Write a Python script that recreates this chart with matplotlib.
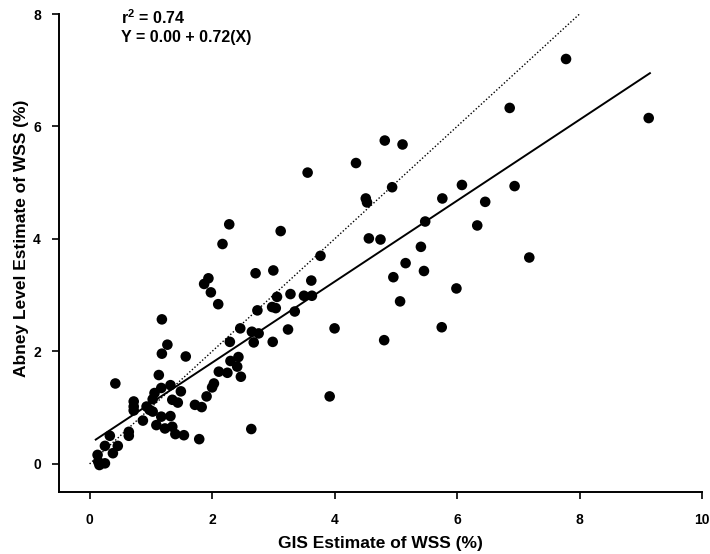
import matplotlib
matplotlib.use("Agg")
import matplotlib.pyplot as plt
import numpy as np

plt.rcParams['font.family'] = ['Liberation Sans', 'DejaVu Sans']
plt.rcParams['mathtext.fontset'] = 'custom'
plt.rcParams['mathtext.rm'] = 'Liberation Sans:bold'
plt.rcParams['mathtext.bf'] = 'Liberation Sans:bold'

gis_x = [7.78, 6.86, 9.13, 4.82, 5.11, 4.35, 3.56, 4.94, 4.51, 4.53, 6.08, 6.94, 5.76, 6.46,
         5.48, 6.33, 4.56, 4.75, 5.41, 7.18, 5.16, 5.46, 4.96, 5.99, 5.07, 4.00, 5.75, 4.81, 3.92,
         2.28, 3.12, 2.17, 3.77, 2.71, 3.00, 1.94, 1.87, 1.98, 3.62, 2.10, 3.06, 3.28, 3.50, 3.63,
         2.74, 2.98, 3.04, 3.35, 1.18, 2.46, 2.65, 2.76, 2.68, 3.24, 2.99, 2.29, 1.27, 1.18, 1.57,
         2.30, 2.43, 2.41, 2.11, 2.25, 2.47, 2.03, 2.00, 1.91,
         0.42, 1.13, 1.17, 1.32, 1.49, 1.06, 1.03, 0.72, 0.72, 0.72, 0.93, 0.98, 1.03, 1.35, 1.44,
         1.72, 1.83, 0.87, 1.17, 1.32, 1.09, 1.23, 1.35, 1.40, 1.54, 1.79, 0.64, 0.64, 0.33, 0.46,
         0.25, 0.38, 0.13, 0.14, 0.25, 0.16, 2.64]
abney_y = [7.20, 6.33, 6.15, 5.75, 5.68, 5.35, 5.18, 4.92, 4.72, 4.65, 4.96, 4.94, 4.72, 4.66,
           4.31, 4.24, 4.01, 3.99, 3.86, 3.67, 3.57, 3.43, 3.32, 3.12, 2.89, 2.41, 2.43, 2.20, 1.20,
           4.26, 4.14, 3.91, 3.70, 3.39, 3.44, 3.30, 3.20, 3.05, 3.26, 2.84, 2.97, 3.02, 2.99, 2.99,
           2.73, 2.79, 2.77, 2.71, 2.57, 2.41, 2.35, 2.32, 2.16, 2.39, 2.17, 2.17, 2.12, 1.96, 1.91,
           1.83, 1.90, 1.73, 1.64, 1.62, 1.55, 1.43, 1.36, 1.20,
           1.43, 1.58, 1.35, 1.40, 1.29, 1.26, 1.15, 1.11, 1.02, 0.95, 1.02, 0.96, 0.93, 1.14, 1.09,
           1.05, 1.01, 0.77, 0.84, 0.85, 0.69, 0.63, 0.66, 0.53, 0.51, 0.44, 0.57, 0.50, 0.50, 0.32,
           0.32, 0.19, 0.16, 0.04, 0.01, -0.02, 0.62]

fit_intercept = 0.36
fit_slope = 0.72
fit_x = [0.1, 9.15]
one_to_one = [0.0, 8.0]

x_ticks = [0, 2, 4, 6, 8, 10]
y_ticks = [0, 2, 4, 6, 8]

fig = plt.figure(figsize=(7.1, 5.54), dpi=100)
ax = fig.add_axes([0.0831, 0.1119, 0.9056, 0.8628])

ax.scatter(gis_x, abney_y, s=58, color='black', edgecolors='none', zorder=3)
fx = np.array(fit_x)
ax.plot(fx, fit_intercept + fit_slope * fx, color='black', lw=1.4, zorder=2)
ax.plot(one_to_one, one_to_one, color='black', lw=1.0, ls=(0, (1, 1.5)), zorder=2)

ax.set_xlim(-0.5, 10)
ax.set_ylim(-0.5, 8)
ax.set_xticks(x_ticks)
ax.set_yticks(y_ticks)
ax.set_xticklabels([str(t) for t in x_ticks], fontsize=10, fontweight='bold')
ax.set_yticklabels([str(t) for t in y_ticks], fontsize=10, fontweight='bold')
ax.tick_params(axis='x', direction='out', length=5, width=1.2, pad=10)
ax.tick_params(axis='y', direction='out', length=5, width=1.2, pad=8)
for side in ['top', 'right']:
    ax.spines[side].set_visible(False)
for side in ['left', 'bottom']:
    ax.spines[side].set_linewidth(1.4)

ax.set_xlabel('GIS Estimate of WSS (%)', fontsize=12.5, fontweight='bold')
ax.set_ylabel('Abney Level Estimate of WSS (%)', fontsize=12.5, fontweight='bold')
ax.xaxis.set_label_coords(0.5, -0.093)
ax.yaxis.set_label_coords(-0.047, 0.53)

ax.text(0.52, 7.93, r'r$^{\mathbf{2}}$ = 0.74', fontsize=11.5, fontweight='bold', va='center', ha='left')
ax.text(0.52, 7.59, 'Y = 0.00 + 0.72(X)', fontsize=11.5, fontweight='bold', va='center', ha='left')

fig.savefig('out.png', dpi=100)
